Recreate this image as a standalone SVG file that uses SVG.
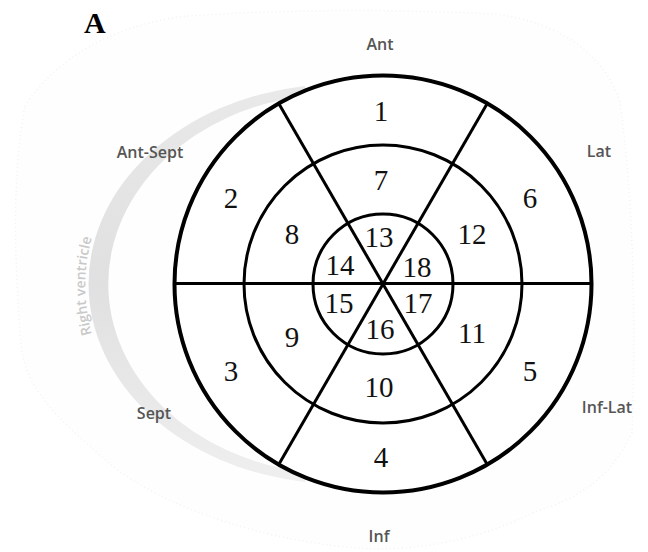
<svg xmlns="http://www.w3.org/2000/svg" width="648" height="552" viewBox="0 0 648 552">
  <defs>
    <linearGradient id="rvGrad" x1="0" y1="0" x2="0" y2="1">
      <stop offset="0" stop-color="#e9e9e9"/>
      <stop offset="0.5" stop-color="#e0e0e0"/>
      <stop offset="1" stop-color="#efefef"/>
    </linearGradient>
    <path id="rvTextPath" d="M 97 350 A 180 180 0 0 1 97 222"/>
  </defs>
  <style>
    .ring { fill: none; stroke: #000; stroke-width: 3; }
    .outer { fill: #fff; stroke: #000; stroke-width: 4; }
    .div { stroke: #000; stroke-width: 3; stroke-linecap: butt; }
    .num { font-family: "Liberation Serif", "Times New Roman", serif; font-size: 29px; fill: #111; text-anchor: middle; }
    .lbl { font-family: "Open Sans", "Liberation Sans", sans-serif; font-size: 16px; font-weight: 600; fill: #555; text-anchor: middle; }
    .rv { font-family: "Open Sans", "Liberation Sans", sans-serif; font-size: 14px; font-weight: 600; fill: #c9c9c9; }
  </style>

  <rect width="648" height="552" fill="#fff"/>

  <!-- faint background blob -->
  <path d="M 25 106 C 60 50 130 22 186 16 C 300 8 420 10 496 14 C 560 22 605 55 620 102 C 634 200 636 330 632 433 C 610 480 575 500 537 511 C 480 540 420 550 372 549 C 280 545 160 510 103 458 C 60 420 25 390 21 345 C 14 260 12 170 25 106 Z" fill="#fefefe" stroke="#f2f2f2" stroke-width="1.5" stroke-dasharray="1 3"/>

  <text x="84" y="33" font-family="Liberation Serif, Times New Roman, serif" font-size="30" font-weight="bold" fill="#000">A</text>

  <!-- right ventricle band -->
  <g id="right-ventricle">
    <path d="M 305 86 A 252 200 0 0 0 305 482 L 305 472 A 230 190 0 0 1 305 96 Z" fill="url(#rvGrad)"/>
    <text class="rv"><textPath href="#rvTextPath" startOffset="50%" text-anchor="middle">Right ventricle</textPath></text>
  </g>

  <!-- bullseye rings and dividers -->
  <g id="rings">
    <circle class="outer" cx="383" cy="284" r="208.5"/>
    <circle class="ring" cx="383" cy="284" r="139"/>
    <circle class="ring" cx="383" cy="284" r="70"/>
  </g>
  <g id="connectors">
    <line class="div" x1="175" y1="283.5" x2="591" y2="283.5"/>
    <line class="div" x1="278.75" y1="103.44" x2="487.25" y2="464.56"/>
    <line class="div" x1="487.25" y1="103.44" x2="278.75" y2="464.56"/>
  </g>

  <!-- segment numbers -->
  <g id="seg1"><text class="num" x="381" y="121">1</text></g>
  <g id="seg2"><text class="num" x="231" y="208">2</text></g>
  <g id="seg3"><text class="num" x="231" y="381">3</text></g>
  <g id="seg4"><text class="num" x="381" y="467">4</text></g>
  <g id="seg5"><text class="num" x="530" y="381">5</text></g>
  <g id="seg6"><text class="num" x="530" y="208">6</text></g>
  <g id="seg7"><text class="num" x="381" y="190">7</text></g>
  <g id="seg8"><text class="num" x="292" y="244">8</text></g>
  <g id="seg9"><text class="num" x="292" y="347">9</text></g>
  <g id="seg10"><text class="num" x="379" y="397">10</text></g>
  <g id="seg11"><text class="num" x="472" y="343">11</text></g>
  <g id="seg12"><text class="num" x="472" y="244">12</text></g>
  <g id="seg13"><text class="num" x="379" y="247">13</text></g>
  <g id="seg14"><text class="num" x="340" y="275">14</text></g>
  <g id="seg15"><text class="num" x="339" y="313">15</text></g>
  <g id="seg16"><text class="num" x="380" y="339">16</text></g>
  <g id="seg17"><text class="num" x="418" y="313">17</text></g>
  <g id="seg18"><text class="num" x="417" y="277">18</text></g>

  <!-- wall labels -->
  <g id="label-ant"><text class="lbl" x="380" y="50">Ant</text></g>
  <g id="label-lat"><text class="lbl" x="599" y="157">Lat</text></g>
  <g id="label-antsept"><text class="lbl" x="150" y="158">Ant-Sept</text></g>
  <g id="label-sept"><text class="lbl" x="154" y="419">Sept</text></g>
  <g id="label-inflat"><text class="lbl" x="607" y="413">Inf-Lat</text></g>
  <g id="label-inf"><text class="lbl" x="379" y="542">Inf</text></g>
</svg>
